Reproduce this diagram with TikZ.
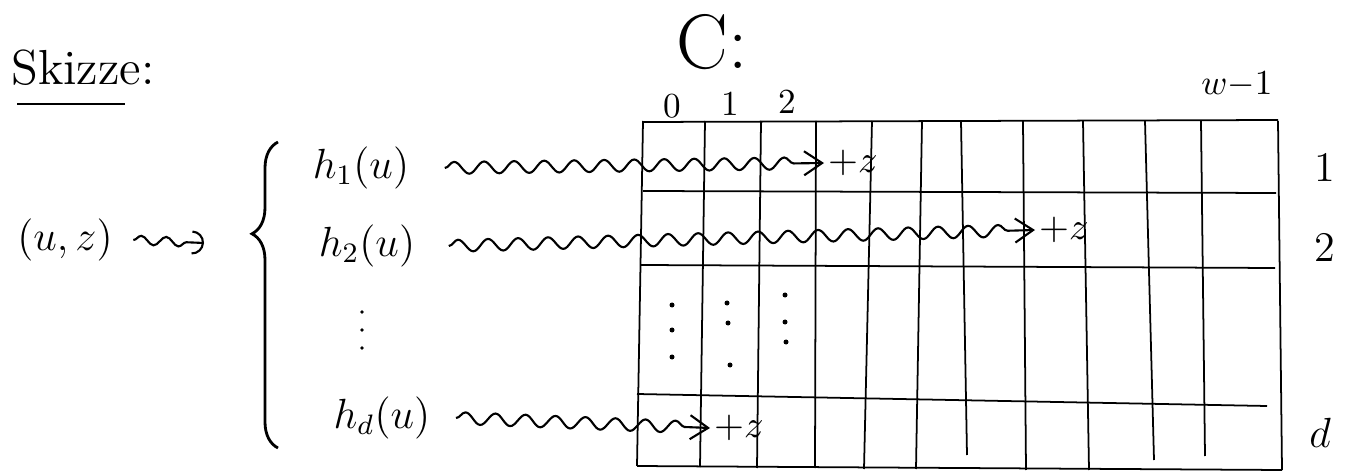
\documentclass[tikz,border=0pt]{standalone}
\usepackage{amsmath,amssymb}
\usepackage{tikz}
\usetikzlibrary{arrows.meta}
\usetikzlibrary{decorations.pathmorphing,decorations.pathreplacing}

\begin{document}
\begin{tikzpicture}[
  x=0.01cm, y=-0.01cm,
  lbl/.style={inner sep=0pt, font=\fontsize{12}{14}\selectfont},
  idx/.style={inner sep=0pt, font=\fontsize{10}{12}\selectfont},
  inc/.style={inner sep=1pt, font=\fontsize{11}{13}\selectfont},
  tbl/.style={line width=0.5pt},
  wavy/.style={->, >={Straight Barb[length=1.8mm, width=2.4mm]}, line width=0.6pt,
    decorate, decoration={snake, amplitude=0.6mm, segment length=3mm, post length=1.8mm}},
  uarr/.style={->, >={Arc Barb[length=1.2mm, width=2.4mm]}, line width=0.6pt,
    decorate, decoration={snake, amplitude=0.45mm, segment length=2.5mm, post length=1mm}}
]
\useasboundingbox (0,0) rectangle (1354,473);

%% Title
\node[inner sep=0pt, font=\fontsize{14}{16}\selectfont] (skz) at (83,68) {Skizze:};
\draw[line width=0.7pt] (17,104) -- (125,104);
\node[inner sep=0pt, font=\fontsize{22}{24}\selectfont] (cname) at (712,42) {C:};

%% Input and hash functions
\node[lbl] (uz) at (65,240) {$(u,z)$};
\coordinate (uzend) at (204,243);
\draw[uarr] ([xshift=2mm]uz.east) -- (uzend);
\draw[line width=0.8pt, decorate, decoration={brace, amplitude=2.6mm, aspect=0.7}]
  (278,448) -- (278,142);

\node[lbl] (h1) at (361,168) {$h_1(u)$};
\node[lbl] (h2) at (367,246) {$h_2(u)$};
\node[lbl] (hd) at (382,418) {$h_d(u)$};
\foreach \py in {312, 330, 348}
  \fill (362,\py) circle (0.18mm);

%% Table C: columns
\foreach \xt/\xb/\yb in {643/637/466, 705/700/467, 761/757/468, 816/815/468,
  872/864/469, 922/916/469, 961/967/455, 1023/1026/470, 1083/1089/470,
  1145/1154/460, 1201/1205/456, 1278/1282/470}
  \draw[tbl] (\xt,121) -- (\xb,\yb);

%% Table C: rows
\draw[tbl] (643,122) -- (1278,120);
\draw[tbl] (643,191) -- (1276,193);
\draw[tbl] (641,265) -- (1275,268);
\draw[tbl] (637,394) -- (1267,406);
\draw[tbl] (637,466) -- (1282,470);

%% Indices
\node[idx] (c0) at (672,106) {0};
\node[idx] (c1) at (730,104) {1};
\node[idx] (c2) at (787,102) {2};
\node[idx] (cw) at (1237,85) {$w{-}1$};
\node[lbl] (r1) at (1325,167) {1};
\node[lbl] (r2) at (1325,247) {2};
\node[lbl] (rd) at (1320,433) {$d$};

%% Dots inside the table
\foreach \px/\py in {672/305, 672/330, 672/357, 727/303, 728/323, 730/365,
  785/295, 785/322, 786/342}
  \fill (\px,\py) circle (0.25mm);

%% Increments
\node[inc] (p1) at (853,163) {$+z$};
\node[inc] (p2) at (1064,230) {$+z$};
\node[inc] (pd) at (739,428) {$+z$};

\draw[wavy] ([xshift=3.5mm]h1.east) -- (p1.west);
\draw[wavy] ([xshift=3.3mm]h2.east) -- (p2.west);
\draw[wavy] ([xshift=2.5mm]hd.east) -- (pd.west);

\end{tikzpicture}
\end{document}
